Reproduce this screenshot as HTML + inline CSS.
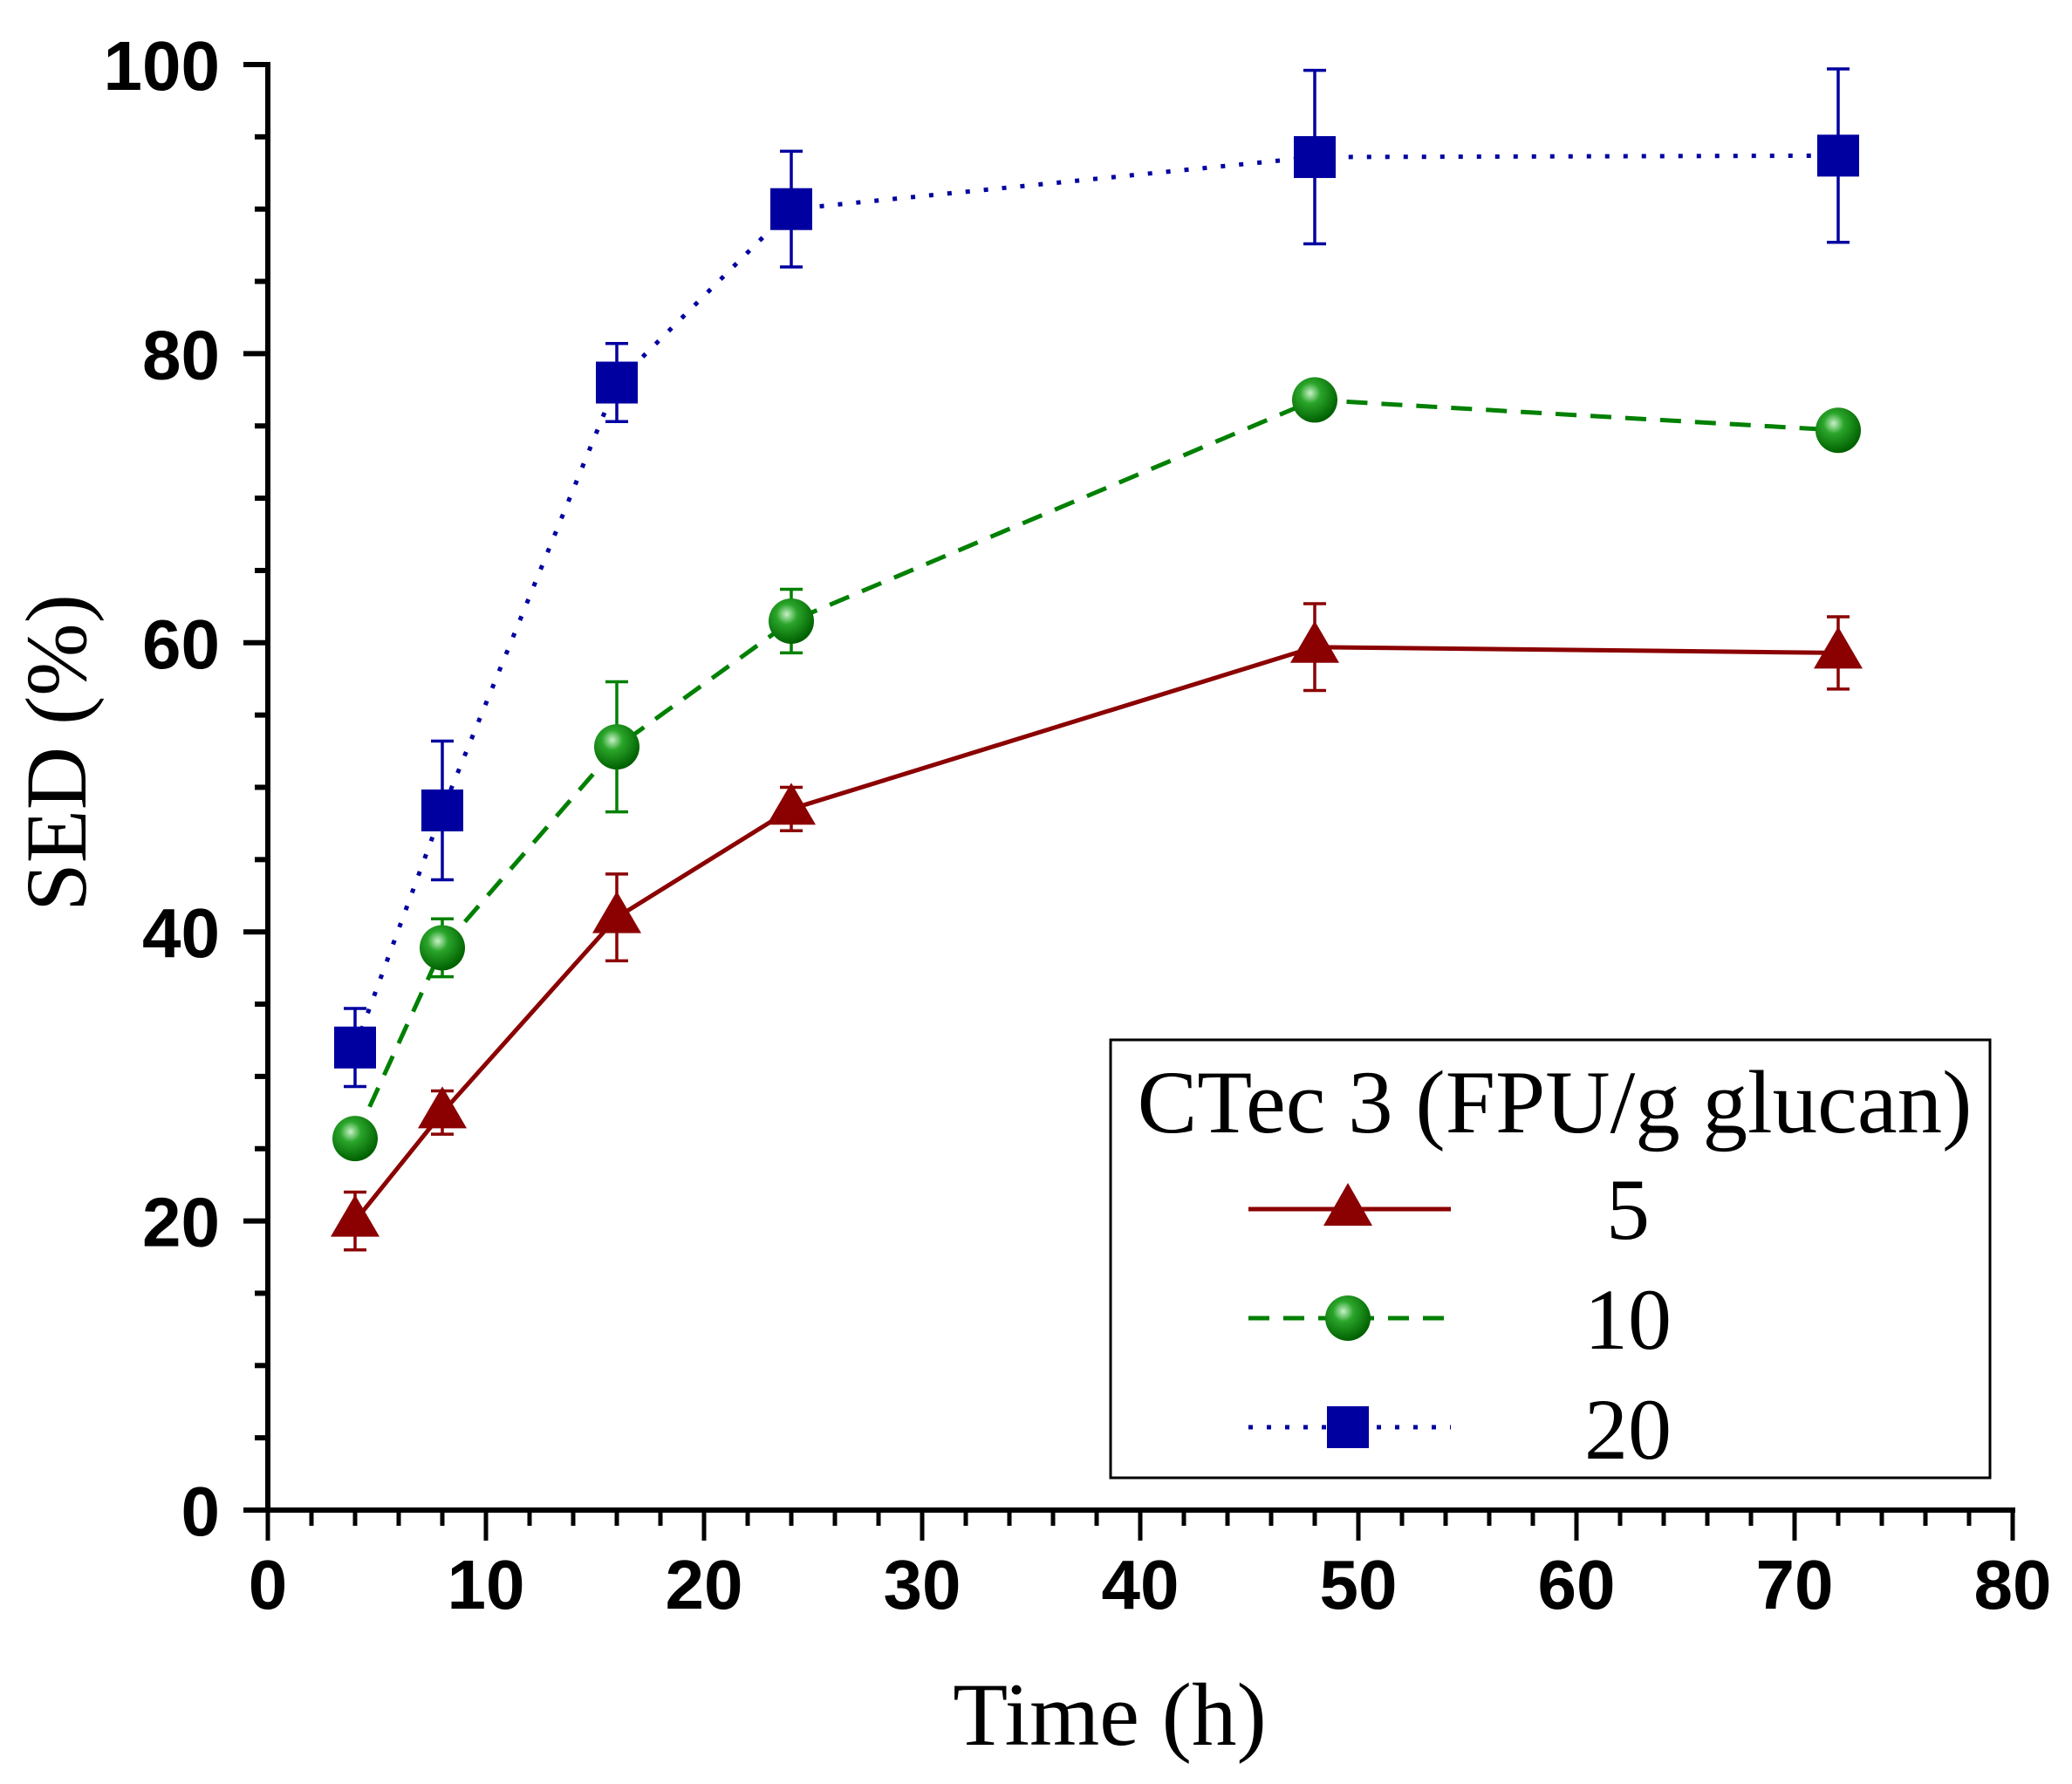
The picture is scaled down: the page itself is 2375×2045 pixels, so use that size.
<!DOCTYPE html>
<html><head><meta charset="utf-8"><style>
html,body{margin:0;padding:0;background:#fff;}
svg{display:block;}
</style></head><body>
<svg id="chart" width="2375" height="2045" viewBox="0 0 2375 2045" xmlns="http://www.w3.org/2000/svg">
<defs>
<radialGradient id="gball" cx="0.4" cy="0.35" r="0.65">
<stop offset="0" stop-color="#c8f0c8"/><stop offset="0.35" stop-color="#2aa52a"/><stop offset="1" stop-color="#006000"/>
</radialGradient>
</defs>
<g id="axes"></g>
<g id="series"></g>
<text x="1272" y="2000" font-family="Liberation Serif, serif" font-size="103" text-anchor="middle">Time (h)</text>
<text transform="translate(98,863) rotate(-90)" font-family="Liberation Serif, serif" font-size="100" text-anchor="middle">SED (%)</text>
<g>
<rect x="1273" y="1192" width="1008" height="502" fill="#fff" stroke="#000" stroke-width="3"/>
<text x="1782" y="1298" font-family="Liberation Serif, serif" font-size="103" text-anchor="middle">CTec 3 (FPU/g glucan)</text>
<g>
<line x1="1431" y1="1386" x2="1663" y2="1386" stroke="#8b0000" stroke-width="5"/>
<polygon points="1545,1356 1573,1405 1517,1405" fill="#8b0000"/>
<text x="1866" y="1420" font-family="Liberation Serif, serif" font-size="100" text-anchor="middle">5</text>
</g>
<g>
<line x1="1431" y1="1511" x2="1663" y2="1511" stroke="#008000" stroke-width="5" stroke-dasharray="24,16"/>
<circle cx="1545" cy="1511" r="26" fill="url(#gball)"/>
<text x="1866" y="1546" font-family="Liberation Serif, serif" font-size="100" text-anchor="middle">10</text>
</g>
<g>
<line x1="1431" y1="1636" x2="1663" y2="1636" stroke="#0000a0" stroke-width="5" stroke-dasharray="5,16"/>
<rect x="1521" y="1612" width="48" height="48" fill="#0000a0"/>
<text x="1866" y="1672" font-family="Liberation Serif, serif" font-size="100" text-anchor="middle">20</text>
</g>
</g>
</svg>
<script>
const times = [4, 8, 16, 24, 48, 72];
const sed5 = [20, 27.5, 41, 48.5, 59.7, 59.3];
const err5 = [2, 1.5, 3, 1.5, 3, 2.5];
const sed10 = [25.7, 38.9, 52.8, 61.5, 76.8, 74.7];
const err10 = [0.5, 2, 4.5, 2.2, 0.5, 0.5];
const sed20 = [32, 48.4, 78, 90, 93.6, 93.7];
const err20 = [2.7, 4.8, 2.7, 4, 6, 6];
const xTicks = [0, 10, 20, 30, 40, 50, 60, 70, 80];
const yTicks = [0, 20, 40, 60, 80, 100];

const NS = 'http://www.w3.org/2000/svg';
const X0 = 307, X1 = 2307, Y0 = 1731, Y1 = 74;
const sx = v => X0 + (v - 0) / 80 * (X1 - X0);
const sy = v => Y0 - (v - 0) / 100 * (Y0 - Y1);
function mk(tag, attrs, parent) {
  const e = document.createElementNS(NS, tag);
  for (const k in attrs) e.setAttribute(k, attrs[k]);
  parent.appendChild(e);
  return e;
}
const axes = document.getElementById('axes');
let el = mk('line', {x1: X0, y1: Y0 + 3, x2: X0, y2: Y1 - 3, stroke: '#000', 'stroke-width': 6}, axes);


el = mk('line', {x1: X0 - 28, y1: Y0, x2: X1 + 3, y2: Y0, stroke: '#000', 'stroke-width': 6}, axes);


for (let v = 0; v <= 100; v += 5) {
  const major = v % 20 === 0;
  el = mk('line', {x1: X0 - (major ? 28 : 15), y1: sy(v), x2: X0, y2: sy(v), stroke: '#000', 'stroke-width': 6}, axes);
  
  
}
for (let v = 0; v <= 80; v += 2) {
  const major = v % 10 === 0;
  el = mk('line', {x1: sx(v), y1: Y0, x2: sx(v), y2: Y0 + (major ? 35 : 18), stroke: '#000', 'stroke-width': 5}, axes);
  
  
}
yTicks.forEach(v => {
  const t = mk('text', {x: 252, y: sy(v) + 29, 'font-family': 'Liberation Sans, sans-serif', 'font-size': 80, 'font-weight': 'bold', 'text-anchor': 'end'}, axes);
  t.textContent = v;
  
  
});
xTicks.forEach(v => {
  const t = mk('text', {x: sx(v), y: 1844, 'font-family': 'Liberation Sans, sans-serif', 'font-size': 80, 'font-weight': 'bold', 'text-anchor': 'middle'}, axes);
  t.textContent = v;
  
  
});

const sg = document.getElementById('series');
function drawSeries(vals, errs, color, dash, marker, name) {
  const g = mk('g', {}, sg);
  
  
  const pts = times.map((t, i) => sx(t) + ',' + sy(vals[i])).join(' ');
  const line = mk('polyline', {points: pts, fill: 'none', stroke: color, 'stroke-width': 5, 'stroke-dasharray': dash}, g);
  
  
  times.forEach((t, i) => {
    const x = sx(t), yh = sy(vals[i] + errs[i]), yl = sy(vals[i] - errs[i]);
    const eb = mk('path', {d: `M${x},${yh}V${yl}M${x - 13},${yh}H${x + 13}M${x - 13},${yl}H${x + 13}`, stroke: color, 'stroke-width': 3.5, fill: 'none'}, g);
    
    
  });
  times.forEach((t, i) => {
    const x = sx(t), y = sy(vals[i]);
    let m;
    if (marker === 'tri') m = mk('polygon', {points: `${x},${y - 30} ${x + 28},${y + 18} ${x - 28},${y + 18}`, fill: color}, g);
    else if (marker === 'circ') m = mk('circle', {cx: x, cy: y, r: 26, fill: 'url(#gball)'}, g);
    else m = mk('rect', {x: x - 24, y: y - 24, width: 48, height: 48, fill: color}, g);
    
    
  });
}
drawSeries(sed5, err5, '#8b0000', 'none', 'tri', '5');
drawSeries(sed10, err10, '#008000', '24,16', 'circ', '10');
drawSeries(sed20, err20, '#0000a0', '5,16', 'sq', '20');
</script>
</body></html>
